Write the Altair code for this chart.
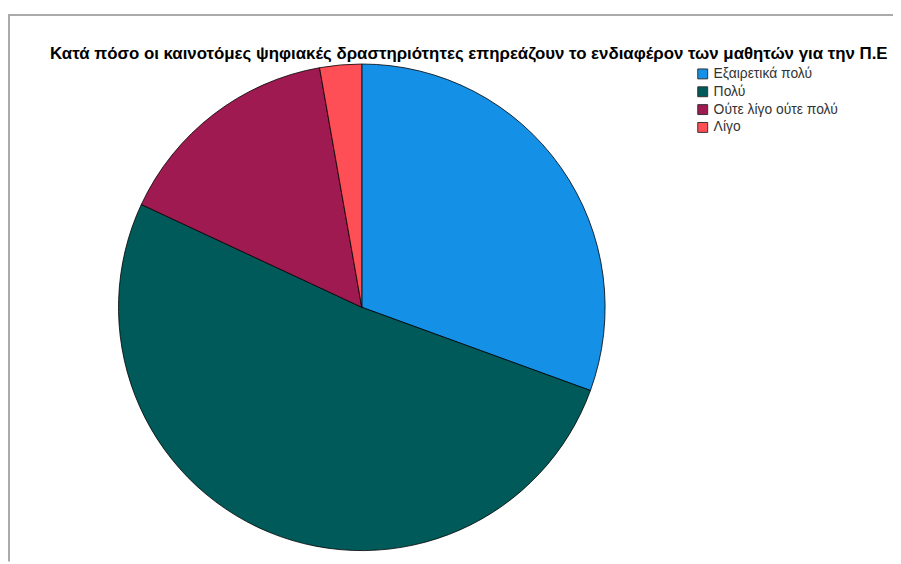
import altair as alt
import pandas as pd

categories = ["Εξαιρετικά πολύ", "Πολύ", "Ούτε λίγο ούτε πολύ", "Λίγο"]
counts = [22, 37, 11, 2]
colors = ["#1490E6", "#005A5A", "#9E1A50", "#FF4F56"]
title_text = "Κατά πόσο οι καινοτόμες ψηφιακές δραστηριότητες επηρεάζουν το ενδιαφέρον των μαθητών για την Π.Ε"

df = pd.DataFrame({"cat": categories, "n": counts, "idx": list(range(len(categories)))})
dummy = pd.DataFrame({"a": [0]})

pie = alt.Chart(df).mark_arc(radius=245.5, stroke="#000000", strokeWidth=0.8).encode(
    theta=alt.Theta("n:Q", stack=True),
    order=alt.Order("idx:Q", sort="ascending"),
    color=alt.Color(
        "cat:N",
        scale=alt.Scale(domain=categories, range=colors),
        sort=categories,
        legend=alt.Legend(
            title=None,
            orient="none",
            legendX=694,
            legendY=57,
            padding=0,
            symbolType="square",
            symbolSize=100,
            symbolStrokeColor="#333333",
            symbolStrokeWidth=1,
            symbolOpacity=1,
            labelFont="Liberation Sans",
            labelFontSize=14,
            labelColor="#333333",
            labelOffset=4,
            rowPadding=4,
        ),
    ),
    x=alt.value(357),
    y=alt.value(299.5),
)

title = alt.Chart(dummy).mark_text(
    text=title_text,
    font="Liberation Sans",
    fontSize=17,
    fontWeight="bold",
    color="#000000",
    align="center",
    baseline="alphabetic",
).encode(x=alt.value(465), y=alt.value(48.5))

top_rule = alt.Chart(dummy).mark_rule(color="#aaaaaa", strokeWidth=2).encode(
    x=alt.value(0), x2=alt.value(893), y=alt.value(4.5)
)
left_rule = alt.Chart(dummy).mark_rule(color="#aaaaaa", strokeWidth=2).encode(
    x=alt.value(1), y=alt.value(4.5), y2=alt.value(556)
)

chart = alt.layer(top_rule, left_rule, pie, title).properties(
    width=893, height=556, padding=0, autosize=alt.AutoSizeParams(type="none")
).configure_view(stroke=None)

chart.save("out.html", embed_options={"renderer": "svg", "actions": False})
